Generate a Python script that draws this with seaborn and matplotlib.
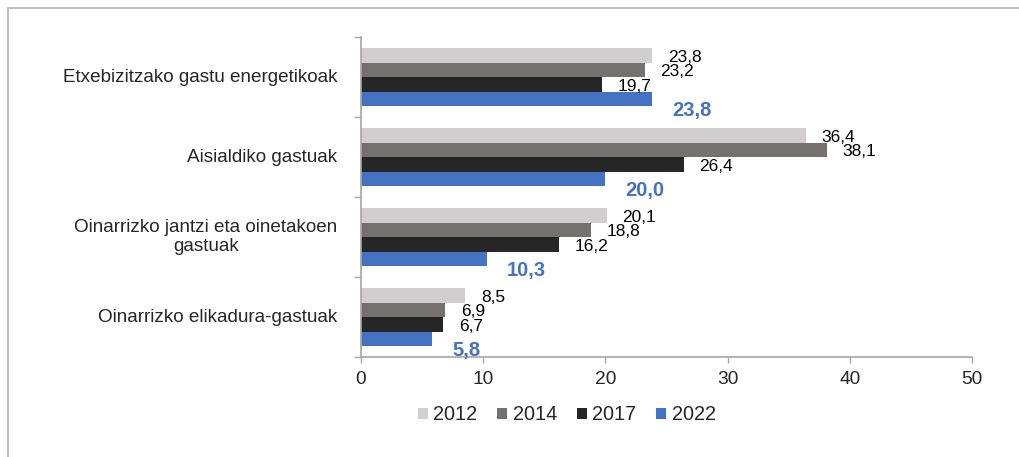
import matplotlib as mpl

mpl.use("Agg")
import matplotlib.pyplot as plt
import matplotlib.transforms as mtransforms
import seaborn as sns
import pandas as pd
from matplotlib.lines import Line2D
from matplotlib.patches import Patch

sns.set_style("white")
plt.rcParams["font.family"] = ["Liberation Sans", "DejaVu Sans"]

# data
categories = [
    "Etxebizitzako gastu energetikoak",
    "Aisialdiko gastuak",
    "Oinarrizko jantzi eta oinetakoen\ngastuak",
    "Oinarrizko elikadura-gastuak",
]
years = ["2012", "2014", "2017", "2022"]
v2012 = [23.8, 36.4, 20.1, 8.5]
v2014 = [23.2, 38.1, 18.8, 6.9]
v2017 = [19.7, 26.4, 16.2, 6.7]
v2022 = [23.8, 20.0, 10.3, 5.8]
colors = ["#D0CECE", "#767171", "#262626", "#4472C4"]

df = pd.DataFrame(
    {
        "cat": categories * 4,
        "year": [y for y in years for _ in categories],
        "val": v2012 + v2014 + v2017 + v2022,
    }
)

fig = plt.figure(figsize=(10.19, 4.57), dpi=100)
ax = fig.add_axes([0.3543, 0.2188, 0.5996, 0.7002])
sns.barplot(
    data=df, y="cat", x="val", hue="year", order=categories, hue_order=years,
    palette=colors, orient="h", width=0.725, saturation=1, linewidth=0,
    ax=ax, legend=False,
)

# data labels
for i, cont in enumerate(ax.containers):
    blue = years[i] == "2022"
    for bar in cont:
        w = bar.get_width()
        ax.annotate(
            f"{w:.1f}".replace(".", ","),
            xy=(w, bar.get_y() + bar.get_height() / 2),
            xytext=(14.5 if blue else 11.5, -8.5 if blue else -1.5),
            textcoords="offset points", ha="left", va="center",
            fontsize=14.5 if blue else 12.5,
            fontweight="bold" if blue else "normal",
            color="#4472C4" if blue else "black",
        )

ax.set_xlim(0, 50)
ax.set_xticks([0, 10, 20, 30, 40, 50])
ax.set_xlabel("")
ax.set_ylabel("")

# category labels drawn as text so the wrapped one can be centred
ax.set_yticklabels([])
ax.tick_params(axis="y", which="major", length=0)
lbl_trans = mtransforms.offset_copy(ax.get_yaxis_transform(), fig=fig, x=-17, units="points")
for pos, name in zip(ax.get_yticks(), categories):
    ax.text(0, pos, name, transform=lbl_trans, ha="right", va="center",
            multialignment="center", fontsize=13.6)

ax.set_yticks([-0.5, 0.5, 1.5, 2.5, 3.5], minor=True)
ax.tick_params(axis="y", which="minor", left=True, length=5, color="#A6A6A6", width=1)
ax.tick_params(axis="x", bottom=True, length=4, color="#A6A6A6", width=1, pad=6, labelsize=13.8)
for s in ["top", "right"]:
    ax.spines[s].set_visible(False)
for s in ["left", "bottom"]:
    ax.spines[s].set_color("#A6A6A6")
    ax.spines[s].set_linewidth(1.2)

handles = [Patch(facecolor=c, edgecolor="none") for c in colors]
fig.legend(
    handles, years, loc="center", bbox_to_anchor=(0.556, 0.092), ncol=4,
    frameon=False, fontsize=14.3, handlelength=0.52, handleheight=0.52,
    handletextpad=0.26, columnspacing=1.0,
)

# outer frame (left and top only, as in the reference crop)
fig.add_artist(Line2D([8 / 1019, 8 / 1019], [0, 1 - 8 / 457], color="#BFBFBF", lw=1.5))
fig.add_artist(Line2D([8 / 1019, 1], [1 - 8 / 457, 1 - 8 / 457], color="#BFBFBF", lw=1.5))

fig.savefig("out.png", dpi=100)
